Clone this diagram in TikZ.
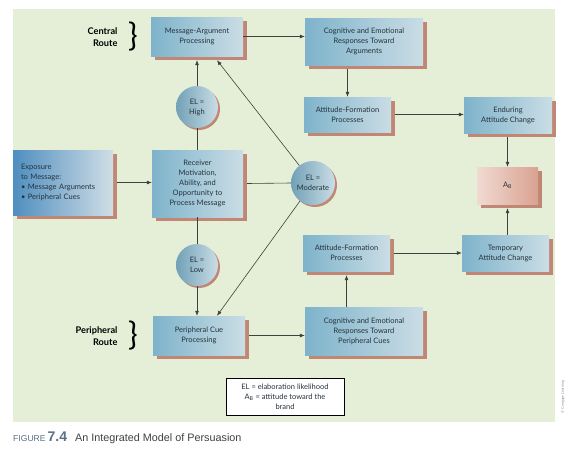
\documentclass[tikz,border=0pt]{standalone}
\usepackage{fontspec}
\setmainfont{Lato}
\newfontfamily\capfont{Liberation Sans}
\usetikzlibrary{arrows.meta,positioning,shadows}

\definecolor{bggreen}{HTML}{E5EFD8}
\definecolor{boxl}{HTML}{7EB3CB}
\definecolor{boxr}{HTML}{CADDE5}
\definecolor{expl}{HTML}{4F8EBF}
\definecolor{expr}{HTML}{D0DEE6}
\definecolor{shadowc}{HTML}{C08775}
\definecolor{abl}{HTML}{F1DAD2}
\definecolor{abr}{HTML}{D9A292}
\definecolor{linec}{HTML}{404040}
\definecolor{txtc}{HTML}{26323C}
\definecolor{capblue}{HTML}{5B7085}

\begin{document}
\begin{tikzpicture}[
  x=1pt, y=-1pt,
  font=\fontsize{7.5}{10}\selectfont,
  shad/.style={drop shadow={shadow xshift=4pt, shadow yshift=-4pt, fill=shadowc, opacity=1}},
  proc/.style={shad, left color=boxl, right color=boxr, draw=none, align=center, inner sep=1pt, text=txtc},
  expo/.style={shad, left color=expl, right color=expr, draw=none, align=left, inner sep=0pt, text=txtc},
  res/.style={shad, left color=abl, right color=abr, draw=none, align=center, inner sep=1pt, text=txtc},
  el/.style={circle, drop shadow={shadow xshift=2pt, shadow yshift=-2pt, fill=shadowc, opacity=1}, left color=boxl!90!black, right color=boxr, minimum size=42pt, inner sep=0pt, align=center, text=txtc},
  route/.style={font=\fontsize{9.2}{11.5}\selectfont\bfseries, align=right, text=black},
  brace/.style={font=\fontsize{32}{32}\selectfont, text=black, inner sep=0pt},
  key/.style={draw=black, fill=white, line width=0.7pt, align=center, inner sep=1pt, text=txtc},
  fl/.style={-{Latex[length=5pt,width=4pt]}, draw=linec, line width=0.6pt},
  ln/.style={draw=linec, line width=0.6pt},
]
\useasboundingbox (0,0) rectangle (577,450);
\fill[bggreen] (13,9) rectangle (555,422);

% central route
\node[proc, minimum width=92pt, minimum height=39pt] (msg) at (197,36.5) {Message-Argument\\Processing};
\node[proc, minimum width=118pt, minimum height=47pt] (cogarg) at (364,41.5) {Cognitive and Emotional\\Responses Toward\\Arguments};
\node[proc, minimum width=87pt, minimum height=35pt] (aftop) at (347.5,114.5) {Attitude-Formation\\Processes};
\node[proc, minimum width=88pt, minimum height=36pt] (endur) at (508,115) {Enduring\\Attitude Change};
\node[res, minimum width=61pt, minimum height=37pt] (ab) at (507.5,185.5) {A\textsubscript{B}};

% middle row
\node[expo, minimum width=100pt, minimum height=65pt, text width=84pt] (expo) at (63,182.5) {Exposure\\to Message:\\\textbullet{} Message Arguments\\\textbullet{} Peripheral Cues};
\node[proc, minimum width=91pt, minimum height=67pt] (recv) at (197.5,183.5) {Receiver\\Motivation,\\Ability, and\\Opportunity to\\Process Message};
\node[el] (high) at (197,107) {EL =\\High};
\node[el, minimum size=44pt] (mod) at (313,183) {EL =\\Moderate};
\node[el] (low) at (197,265) {EL =\\Low};

% peripheral route
\node[proc, minimum width=92pt, minimum height=39pt] (per) at (199,335.5) {Peripheral Cue\\Processing};
\node[proc, minimum width=118pt, minimum height=48pt] (cogper) at (364,331) {Cognitive and Emotional\\Responses Toward\\Peripheral Cues};
\node[proc, minimum width=87pt, minimum height=36pt] (afbot) at (346.5,253) {Attitude-Formation\\Processes};
\node[proc, minimum width=87pt, minimum height=36pt] (temp) at (505.5,253) {Temporary\\Attitude Change};

% route labels
\node[route, anchor=east] (central) at (121,37) {Central\\Route};
\node[brace] (cbrace) at (133,37) {\}};
\node[route, anchor=east] (periph) at (121,336) {Peripheral\\Route};
\node[brace] (pbrace) at (133,336) {\}};

% key
\node[key, minimum width=118pt, minimum height=37pt] (legend) at (285,396.5) {EL = elaboration likelihood\\A\textsubscript{B} = attitude toward the\\brand};

\node[rotate=90, font=\fontsize{3.6}{4}\selectfont, text=black!45] (copy) at (563,397) {\textcopyright{} Cengage Learning};

\node[anchor=west, inner sep=0pt, font=\capfont\fontsize{10.8}{12}\selectfont] (caption) at (13,438)
  {\textcolor{capblue}{\fontsize{8.6}{9}\selectfont FIGURE}\hspace{2pt}\textcolor{capblue}{\fontsize{14}{14}\selectfont\bfseries 7.4}\hspace{8pt}\textcolor{black!75}{An Integrated Model of Persuasion}};

% connectors
\draw[fl] (msg.east) -- (msg.east -| cogarg.west);
\draw[fl] ([yshift=-4pt]cogarg.south -| aftop.north) -- (aftop.north);
\draw[fl] ([xshift=4pt]aftop.east) -- (aftop.east -| endur.west);
\draw[fl] ([yshift=-4pt]endur.south -| ab.north) -- (ab.north);
\draw[fl] (temp.north -| ab.south) -- ([yshift=-4pt]ab.south);
\draw[fl] ([xshift=4pt]afbot.east) -- (afbot.east -| temp.west);
\draw[fl] (cogper.north -| afbot.south) -- ([yshift=-4pt]afbot.south);
\draw[fl] ([xshift=4pt]per.east) -- (per.east -| cogper.west);
\draw[fl] ([xshift=4pt]expo.east) -- (expo.east -| recv.west);
\draw[ln] (recv.north -| high.south) -- (high.south);
\draw[fl] (high.north) -- ([yshift=-4pt]msg.south -| high.north);
\draw[ln] (recv.south -| low.north) -- (low.north);
\draw[fl] (low.south) -- (per.north -| low.south);
\draw[ln] ([xshift=4pt]recv.east) -- (mod.west);
\draw[fl] (mod) -- ([xshift=20pt,yshift=-4pt]msg.south);
\draw[fl] (mod) -- ([xshift=18pt]per.north);
\end{tikzpicture}
\end{document}
